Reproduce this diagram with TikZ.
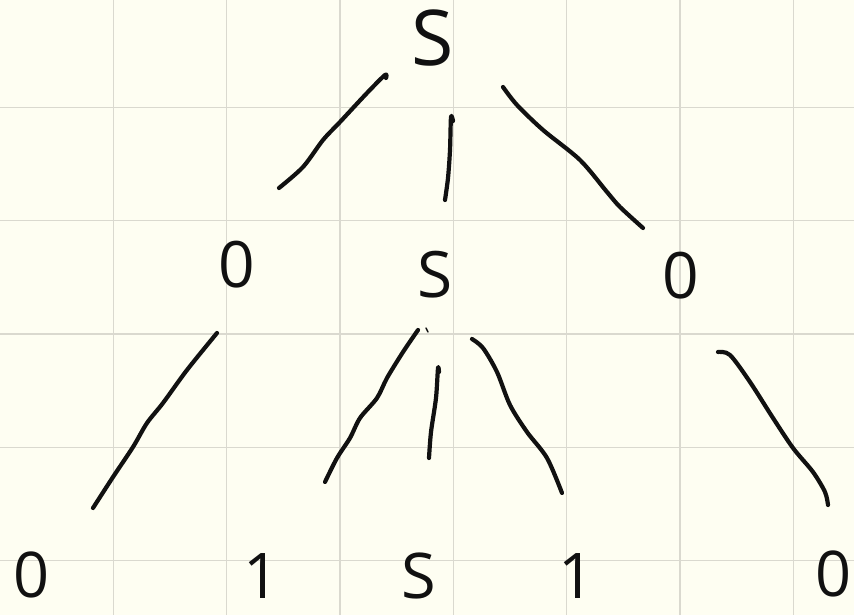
\documentclass[tikz,border=0pt]{standalone}
\usepackage{fontspec}
\setmainfont{Open Sans}
\definecolor{paper}{HTML}{FEFEF2}
\definecolor{gridc}{HTML}{DAD9CF}
\definecolor{ink}{HTML}{111111}
\begin{document}
\begin{tikzpicture}[x=1pt,y=-1pt,
  sym/.style={inner sep=0pt, text=ink},
  big/.style={sym, font=\fontsize{77}{77}\selectfont},
  mid/.style={sym, font=\fontsize{64}{64}\selectfont},
  low/.style={sym, font=\fontsize{63}{63}\selectfont},
  stroke/.style={draw=ink, line width=4.2pt, line cap=round, line join=round}]
\useasboundingbox (0,0) rectangle (854,615);
\clip (0,0) rectangle (854,615);
\fill[paper] (0,0) rectangle (854,615);
% grid
\foreach \k in {1,...,7} \draw[gridc, line width=1.3pt] ({113.33*\k},0) -- ({113.33*\k},615);
\foreach \k in {1,...,5} \draw[gridc, line width=1.3pt] (0,{-6+113.33*\k}) -- (854,{-6+113.33*\k});
% symbols
\node[big] (s0) at (433,38) {S};
\node[mid] (a1) at (237,265) {0};
\node[mid] (s1) at (435,275) {S};
\node[mid] (a2) at (681,276) {0};
\node[low] (b1) at (32,575) {0};
\node[low] (b2) at (262,576) {1};
\node[low] (s2) at (419,576) {S};
\node[low] (b3) at (577,576) {1};
\node[low] (b4) at (834,574) {0};
% strokes
\draw[stroke] plot[smooth] coordinates {(386,78) (385,75) (367,93) (340,122) (323,140) (303,167) (279,188)};
\draw[stroke] plot[smooth] coordinates {(453,121) (451,117) (450,150) (448,178) (445,200)};
\draw[stroke] plot[smooth] coordinates {(503,87) (517,105) (543,130) (580,160) (607,192) (620,207) (643,228)};
\draw[stroke] plot[smooth] coordinates {(217,333) (187,370) (163,403) (147,423) (133,447) (113,477) (93,508)};
\draw[stroke] plot[smooth] coordinates {(418,330) (403,352) (387,378) (377,398) (360,418) (350,438) (337,458) (325,482)};
\draw[stroke, line width=1.5pt] (426,328) -- (428,332);
\draw[stroke] plot[smooth] coordinates {(439,372) (438,368) (436,398) (431,432) (429,458)};
\draw[stroke] plot[smooth] coordinates {(472,339) (483,348) (497,372) (510,405) (527,432) (547,458) (562,493)};
\draw[stroke] plot[smooth] coordinates {(718,352) (730,355) (750,382) (773,418) (793,448) (813,472) (825,492) (828,505)};
\end{tikzpicture}
\end{document}
